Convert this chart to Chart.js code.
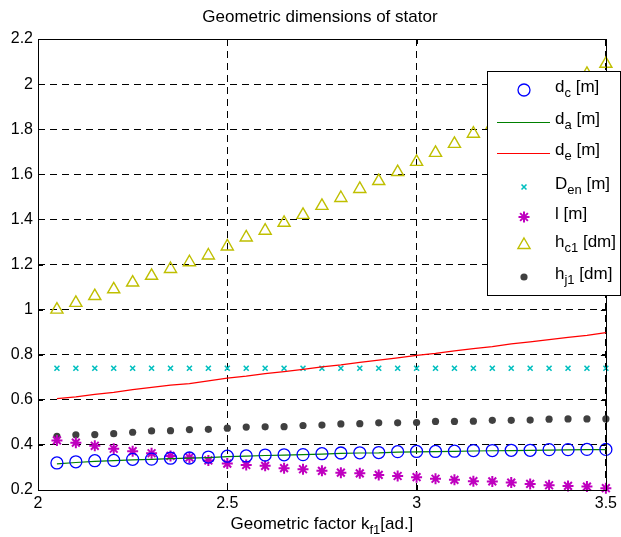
<!DOCTYPE html>
<html>
<head>
<meta charset="utf-8">
<script src="https://cdn.jsdelivr.net/npm/chart.js@4"></script>
<style>
  html, body { margin: 0; padding: 0; background: #fff; }
  #wrap { width: 621px; height: 537px; }
</style>
</head>
<body>
<div id="wrap"><canvas id="myChart"></canvas></div>
<script>
const kf1 = [2.05, 2.1, 2.15, 2.2, 2.25, 2.3, 2.35, 2.4, 2.45, 2.5,
  2.55, 2.6, 2.65, 2.7, 2.75, 2.8, 2.85, 2.9, 2.95, 3.0,
  3.05, 3.1, 3.15, 3.2, 3.25, 3.3, 3.35, 3.4, 3.45, 3.5];

const dC = [0.320, 0.325, 0.330, 0.331, 0.336, 0.337, 0.341, 0.342, 0.346, 0.350,
  0.351, 0.355, 0.356, 0.357, 0.361, 0.364, 0.365, 0.366, 0.370, 0.371,
  0.371, 0.372, 0.375, 0.375, 0.376, 0.376, 0.379, 0.379, 0.380, 0.380];
const dA = [0.316, 0.322, 0.327, 0.330, 0.334, 0.336, 0.339, 0.341, 0.344, 0.348,
  0.350, 0.353, 0.355, 0.357, 0.359, 0.362, 0.364, 0.365, 0.368, 0.369,
  0.370, 0.371, 0.373, 0.374, 0.375, 0.376, 0.377, 0.378, 0.379, 0.379];
const dE = [0.605, 0.613, 0.624, 0.633, 0.645, 0.655, 0.665, 0.672, 0.684, 0.696,
  0.705, 0.716, 0.725, 0.735, 0.746, 0.755, 0.766, 0.776, 0.786, 0.797,
  0.806, 0.817, 0.827, 0.836, 0.848, 0.857, 0.867, 0.877, 0.886, 0.898];
const dEn = [0.74, 0.74, 0.74, 0.74, 0.74, 0.74, 0.74, 0.74, 0.74, 0.74,
  0.74, 0.74, 0.74, 0.74, 0.74, 0.74, 0.74, 0.74, 0.74, 0.74,
  0.74, 0.74, 0.74, 0.74, 0.74, 0.74, 0.74, 0.74, 0.74, 0.74];
const lLen = [0.420, 0.410, 0.396, 0.383, 0.372, 0.363, 0.351, 0.344, 0.331, 0.317,
  0.311, 0.307, 0.297, 0.292, 0.285, 0.277, 0.274, 0.267, 0.262, 0.257,
  0.250, 0.245, 0.239, 0.238, 0.233, 0.227, 0.221, 0.218, 0.215, 0.208];
const hC1 = [1.00, 1.03, 1.06, 1.09, 1.12, 1.15, 1.18, 1.21, 1.24, 1.28,
  1.32, 1.35, 1.385, 1.42, 1.46, 1.495, 1.535, 1.57, 1.61, 1.655,
  1.695, 1.735, 1.78, 1.82, 1.865, 1.91, 1.955, 2.0, 2.045, 2.09];
const hJ1 = [0.438, 0.445, 0.446, 0.450, 0.456, 0.462, 0.463, 0.468, 0.469, 0.474,
  0.479, 0.480, 0.481, 0.486, 0.488, 0.493, 0.494, 0.498, 0.498, 0.499,
  0.504, 0.504, 0.505, 0.509, 0.509, 0.510, 0.514, 0.515, 0.515, 0.515];

const xTicks = [2, 2.5, 3, 3.5];
const yTicks = [0.2, 0.4, 0.6, 0.8, 1, 1.2, 1.4, 1.6, 1.8, 2, 2.2];

// legend entries: main text, subscript, rest
const legendItems = [
  ["d", "c", " [m]"],
  ["d", "a", " [m]"],
  ["d", "e", " [m]"],
  ["D", "en", " [m]"],
  ["l [m]", "", ""],
  ["h", "c1", " [dm]"],
  ["h", "j1", " [dm]"],
];

const FONT = "'Liberation Sans', Arial, sans-serif";
Chart.defaults.font.family = FONT;
Chart.defaults.color = "#000";

const pts = (ys) => kf1.map((x, i) => ({ x: x, y: ys[i] }));
const clear = "rgba(0,0,0,0)";

const datasets = [
  { data: pts(dC), showLine: false, pointStyle: "circle", pointRadius: 6,
    pointBorderColor: "#0000ff", pointBackgroundColor: clear, pointBorderWidth: 1.3 },
  { data: pts(dA), borderColor: "#008000", borderWidth: 1.2, pointRadius: 0 },
  { data: pts(dE), borderColor: "#ff0000", borderWidth: 1.2, pointRadius: 0 },
  { data: pts(dEn), showLine: false, pointStyle: "crossRot", pointRadius: 3.5,
    pointBorderColor: "#00bfbf", pointBackgroundColor: clear, pointBorderWidth: 1.6 },
  { data: pts(lLen), showLine: false, pointStyle: "star", pointRadius: 5.5,
    pointBorderColor: "#bf00bf", pointBackgroundColor: clear, pointBorderWidth: 2 },
  { data: pts(hC1), showLine: false, pointStyle: "triangle", pointRadius: 7,
    pointBorderColor: "#bfbf00", pointBackgroundColor: clear, pointBorderWidth: 1.4 },
  { data: pts(hJ1), showLine: false, pointStyle: "circle", pointRadius: 3.6,
    pointBorderColor: "#404040", pointBackgroundColor: "#404040", pointBorderWidth: 0 },
];
datasets.forEach((d) => { d.clip = false; d.tension = 0; d.fill = false; });

function subWidth(ctx, main, sub, rest, size) {
  ctx.font = size + "px " + FONT;
  let w = ctx.measureText(main + rest).width;
  ctx.font = Math.round(size * 0.75) + "px " + FONT;
  return w + ctx.measureText(sub).width;
}

function drawSub(ctx, x, y, main, sub, rest, size) {
  ctx.font = size + "px " + FONT;
  ctx.fillText(main, x, y);
  x += ctx.measureText(main).width;
  if (sub) {
    ctx.font = Math.round(size * 0.75) + "px " + FONT;
    ctx.fillText(sub, x, y + size * 0.38);
    x += ctx.measureText(sub).width;
  }
  ctx.font = size + "px " + FONT;
  ctx.fillText(rest, x, y);
}

const frame = {
  id: "frame",
  beforeDraw(chart) {
    const ctx = chart.ctx;
    ctx.save();
    ctx.fillStyle = "#fff";
    ctx.fillRect(0, 0, chart.width, chart.height);
    ctx.restore();
  },
  afterDatasetsDraw(chart) {
    const { ctx, chartArea: a, scales } = chart;
    ctx.save();
    ctx.strokeStyle = "#000";
    ctx.lineWidth = 1;
    ctx.strokeRect(Math.round(a.left) + 0.5, Math.round(a.top) + 0.5,
      Math.round(a.right - a.left), Math.round(a.bottom - a.top));
    ctx.beginPath();
    xTicks.forEach((v) => {
      const px = Math.round(scales.x.getPixelForValue(v)) + 0.5;
      ctx.moveTo(px, a.bottom); ctx.lineTo(px, a.bottom - 5);
      ctx.moveTo(px, a.top); ctx.lineTo(px, a.top + 5);
    });
    yTicks.forEach((v) => {
      const py = Math.round(scales.y.getPixelForValue(v)) + 0.5;
      ctx.moveTo(a.left, py); ctx.lineTo(a.left + 5, py);
      ctx.moveTo(a.right, py); ctx.lineTo(a.right - 5, py);
    });
    ctx.stroke();
    ctx.restore();
  },
  afterDraw(chart) {
    const { ctx, chartArea: a } = chart;
    const cx = (a.left + a.right) / 2;
    ctx.save();
    ctx.fillStyle = "#000";
    ctx.textBaseline = "middle";

    // title
    ctx.font = "17px " + FONT;
    ctx.textAlign = "center";
    ctx.fillText("Geometric dimensions of stator", cx - 2, 17);

    // x axis title with subscript
    ctx.textAlign = "left";
    const xt = ["Geometric factor k", "f1", "[ad.]"];
    const w = subWidth(ctx, xt[0], xt[1], xt[2], 17);
    drawSub(ctx, cx - w / 2, 524, xt[0], xt[1], xt[2], 17);

    // legend box
    const bx = 487, by = 71, bw = 133, bh = 224;
    ctx.fillStyle = "#fff";
    ctx.fillRect(bx, by, bw, bh);
    ctx.strokeStyle = "#000";
    ctx.lineWidth = 1;
    ctx.strokeRect(bx + 0.5, by + 0.5, bw, bh);

    const rows = [90, 122, 153, 187, 217, 245, 277];
    const helpers = Chart.helpers;
    legendItems.forEach((it, i) => {
      const ds = chart.data.datasets[i];
      const y = rows[i];
      if (ds.showLine === false) {
        ctx.strokeStyle = ds.pointBorderColor;
        ctx.fillStyle = ds.pointBackgroundColor;
        ctx.lineWidth = ds.pointBorderWidth;
        if (helpers && helpers.drawPoint) {
          helpers.drawPoint(ctx, {
            pointStyle: ds.pointStyle, radius: ds.pointRadius,
            borderWidth: ds.pointBorderWidth, rotation: 0,
          }, 524, y);
        }
      } else {
        ctx.strokeStyle = ds.borderColor;
        ctx.lineWidth = ds.borderWidth;
        ctx.beginPath();
        ctx.moveTo(497, y + 0.5);
        ctx.lineTo(550, y + 0.5);
        ctx.stroke();
      }
      ctx.fillStyle = "#000";
      drawSub(ctx, 555, y - 3, it[0], it[1], it[2], 17);
    });
    ctx.restore();
  },
};

const fmt = (v) => String(parseFloat(Number(v).toFixed(2)));

const config = {
  type: "line",
  data: { datasets: datasets },
  options: {
    responsive: true,
    maintainAspectRatio: false,
    animation: false,
    layout: { padding: { top: 39, right: 12, left: 0, bottom: 0 } },
    plugins: {
      legend: { display: false },
      title: { display: false },
      tooltip: { enabled: false },
    },
    scales: {
      x: {
        type: "linear",
        min: 2,
        max: 3.5,
        afterBuildTicks: (scale) => { scale.ticks = xTicks.map((v) => ({ value: v })); },
        afterFit: (scale) => { scale.height = 47; },
        ticks: { font: { size: 16 }, padding: 4, maxRotation: 0, callback: (v) => fmt(v) },
        grid: { color: "#000", lineWidth: 1, drawTicks: false },
        border: { display: false, dash: [7, 5] },
      },
      y: {
        type: "linear",
        min: 0.2,
        max: 2.2,
        afterBuildTicks: (scale) => { scale.ticks = yTicks.map((v) => ({ value: v })); },
        afterFit: (scale) => { scale.width = 38; },
        ticks: { font: { size: 16 }, padding: 5, callback: (v) => fmt(v) },
        grid: { color: "#000", lineWidth: 1, drawTicks: false },
        border: { display: false, dash: [7, 5] },
      },
    },
  },
  plugins: [frame],
};

const myChart = new Chart(document.getElementById("myChart"), config);
</script>
</body>
</html>
